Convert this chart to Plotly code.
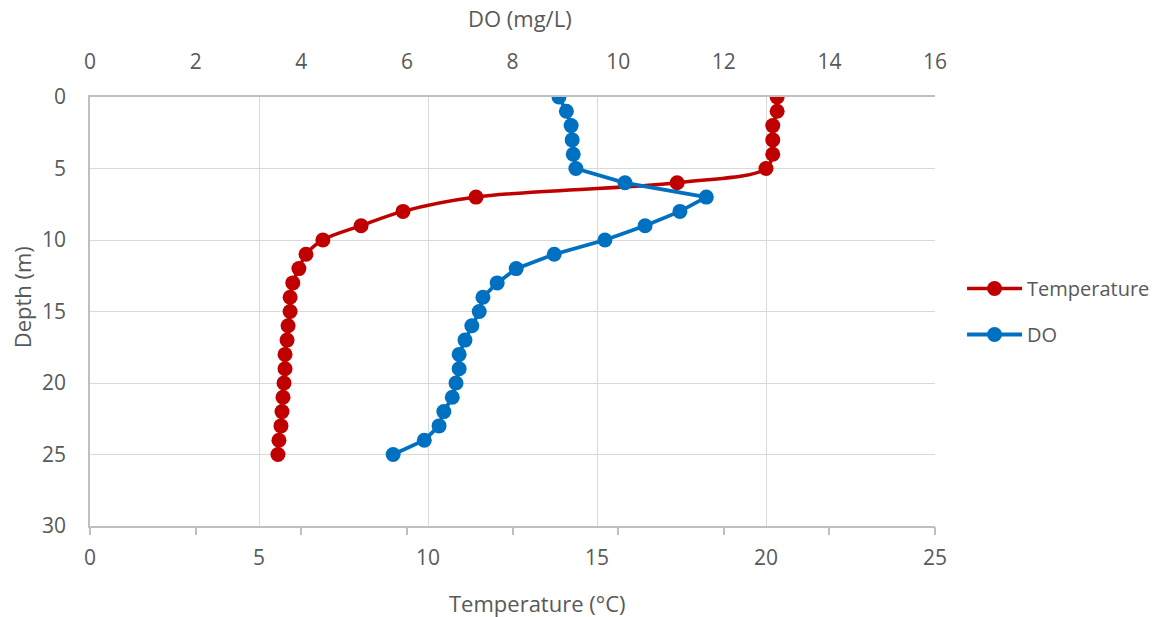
import plotly.graph_objects as go

depth = list(range(0, 26))
temperature = [20.33, 20.33, 20.2, 20.2, 20.2, 20.0, 17.37, 11.42, 9.26, 8.02,
               6.89, 6.39, 6.18, 6.0, 5.92, 5.92, 5.86, 5.83, 5.77, 5.77,
               5.74, 5.71, 5.68, 5.65, 5.59, 5.56]
do_mgL = [8.88, 9.02, 9.11, 9.13, 9.15, 9.2, 10.13, 11.67, 11.17, 10.51,
          9.75, 8.79, 8.07, 7.71, 7.44, 7.37, 7.23, 7.10, 6.99, 6.99,
          6.93, 6.86, 6.70, 6.61, 6.33, 5.74]

temp_ticks = [0, 5, 10, 15, 20, 25]
do_ticks = [0, 2, 4, 6, 8, 10, 12, 14, 16]
depth_ticks = [0, 5, 10, 15, 20, 25, 30]

FONT = "Open Sans, Liberation Sans, sans-serif"
TXT = "#595959"
GRID = "#d9d9d9"
AXL = "#bfbfbf"
RED = "#C00000"
BLUE = "#0070C0"

fig = go.Figure()

fig.add_trace(go.Scatter(
    x=temperature, y=depth, name="Temperature", mode="lines+markers",
    line=dict(color=RED, width=3.5, shape="spline", smoothing=1.0),
    marker=dict(color=RED, size=15),
    xaxis="x", yaxis="y", legendgroup="t", hoverinfo="x+y"))

fig.add_trace(go.Scatter(
    x=do_mgL, y=depth, name="DO", mode="lines+markers",
    line=dict(color=BLUE, width=3.8),
    marker=dict(color=BLUE, size=15),
    xaxis="x2", yaxis="y", legendgroup="d", hoverinfo="x+y"))

# invisible helper trace so the bottom tick-mark axis (DO scale) is drawn
fig.add_trace(go.Scatter(
    x=do_mgL, y=depth, mode="lines", opacity=0, showlegend=False,
    hoverinfo="skip", xaxis="x3", yaxis="y"))

fig.update_layout(
    width=1161, height=617,
    margin=dict(l=90, r=226, t=97, b=91, autoexpand=False),
    paper_bgcolor="white", plot_bgcolor="white",
    font=dict(family=FONT, color=TXT, size=21),
    showlegend=True,
    legend=dict(x=1.032, xanchor="left", y=0.5, yanchor="middle",
                font=dict(size=20, color=TXT, family=FONT),
                itemwidth=55, tracegroupgap=17, traceorder="grouped",
                bgcolor="rgba(0,0,0,0)"),
    xaxis=dict(range=[0, 25], tickvals=temp_ticks, showgrid=True,
               gridcolor=GRID, gridwidth=1.3, showline=True, linecolor=AXL,
               linewidth=1.5, ticks="", ticklabelstandoff=12, zeroline=False,
               tickfont=dict(size=21, color=TXT), side="bottom",
               anchor="y", layer="below traces", automargin=False),
    xaxis2=dict(range=[0, 16], tickvals=do_ticks, overlaying="x", side="top",
                showgrid=False, showline=True, linecolor=AXL, linewidth=1.5,
                ticks="", ticklabelstandoff=18, zeroline=False,
                tickfont=dict(size=21, color=TXT), anchor="y",
                automargin=False),
    xaxis3=dict(range=[0, 16], tickvals=do_ticks, overlaying="x", side="bottom",
                showgrid=False, showline=False, ticks="outside", ticklen=8,
                tickwidth=1.5, tickcolor=AXL, showticklabels=False,
                zeroline=False, anchor="y", automargin=False),
    yaxis=dict(range=[30, 0], tickvals=depth_ticks, showgrid=True,
               gridcolor=GRID, gridwidth=1.3, showline=True, linecolor=AXL,
               linewidth=1.5, ticks="", ticklabelstandoff=18, zeroline=False,
               tickfont=dict(size=21, color=TXT), automargin=False),
    annotations=[
        dict(text="Temperature (°C)", xref="paper", yref="paper",
             x=0.53, y=-0.18, xanchor="center", yanchor="middle",
             showarrow=False, font=dict(size=22, color=TXT, family=FONT)),
        dict(text="DO (mg/L)", xref="paper", yref="paper",
             x=0.509, y=1.184, xanchor="center", yanchor="middle",
             showarrow=False, font=dict(size=22, color=TXT, family=FONT)),
        dict(text="Depth (m)", xref="paper", yref="paper",
             x=-0.08, y=0.534, xanchor="center", yanchor="middle",
             textangle=-90, showarrow=False,
             font=dict(size=22, color=TXT, family=FONT)),
    ],
)

fig.write_html(
    "out.html",
    config={"displayModeBar": False},
    post_script="document.body.style.margin='0';document.body.style.padding='0';",
)
